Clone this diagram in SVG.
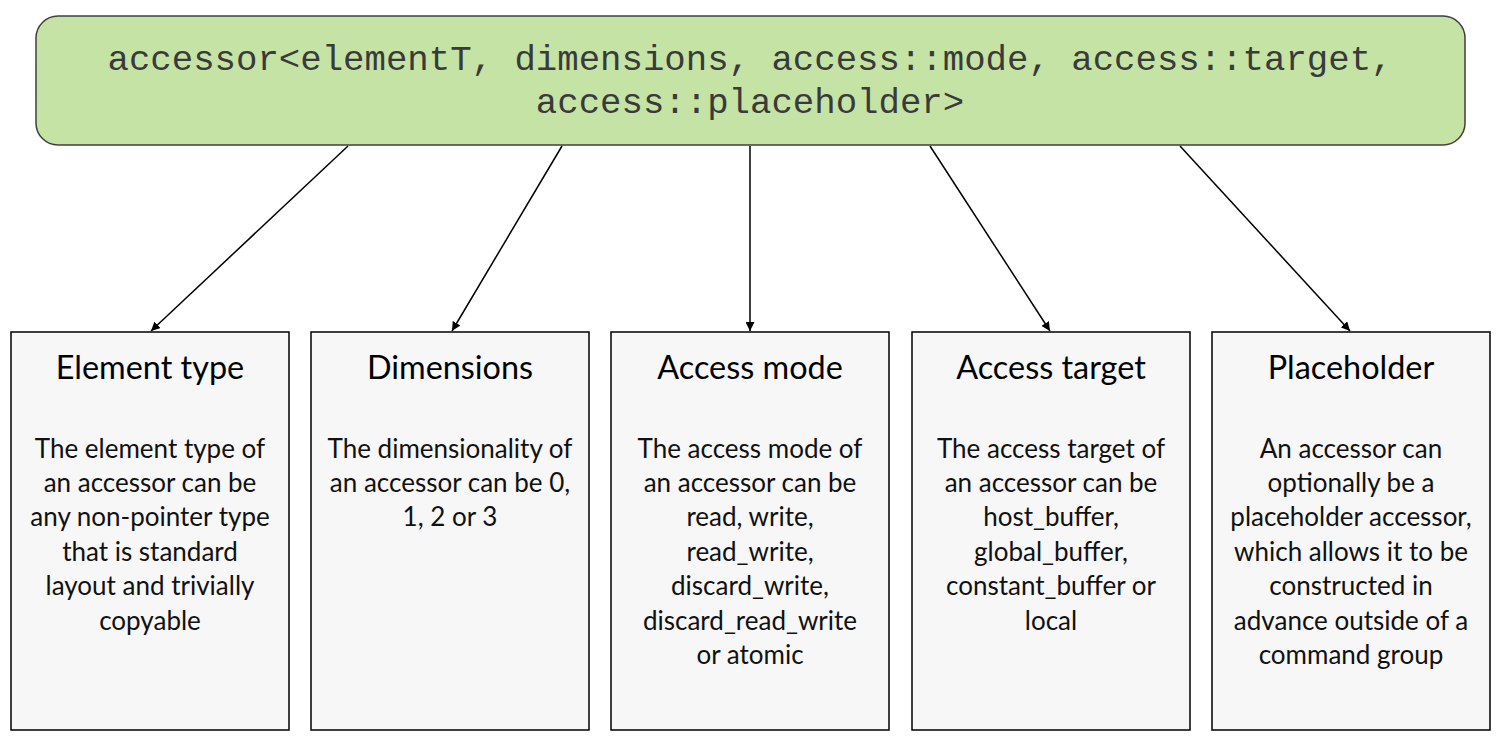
<svg xmlns="http://www.w3.org/2000/svg" width="1500" height="747" viewBox="0 0 1500 747">
<style>
.code{font-family:"Liberation Mono","Courier New",monospace;font-size:35.7px;fill:#3a3a3a;text-anchor:middle}
.box{fill:#f7f7f7;stroke:#000;stroke-width:1.5}
.title{font-family:Lato,"Noto Sans",sans-serif;font-size:32.4px;fill:#000;text-anchor:middle}
.body{font-family:Lato,"Noto Sans",sans-serif;font-size:26px;fill:#111;text-anchor:middle}
.conn{stroke:#000;stroke-width:1.5;fill:none;marker-end:url(#ah)}
</style>
<defs>
<marker id="ah" viewBox="0 0 10 10" refX="10" refY="5" markerWidth="9" markerHeight="9" markerUnits="userSpaceOnUse" orient="auto">
<path d="M0,0 L10,5 L0,10 z" fill="#000"/>
</marker>
</defs>
<rect width="1500" height="747" fill="#fff"/>
<g id="accessor">
<rect x="36" y="16" width="1429" height="129" rx="22" fill="#c5e3a5" stroke="#404040" stroke-width="1.5"/>
<text class="code" x="750" y="70">accessor&lt;elementT, dimensions, access::mode, access::target,</text>
<text class="code" x="750" y="113">access::placeholder&gt;</text>
</g>
<g id="connectors">
<line class="conn" x1="348" y1="146" x2="151" y2="331"/>
<line class="conn" x1="562" y1="146" x2="452" y2="331"/>
<line class="conn" x1="750" y1="146" x2="750" y2="331"/>
<line class="conn" x1="930" y1="146" x2="1050" y2="331"/>
<line class="conn" x1="1180" y1="146" x2="1350" y2="331"/>
</g>
<g id="element-type">
<rect class="box" x="11" y="332" width="278" height="398"/>
<text class="title" x="150" y="379">Element type</text>
<text class="body"><tspan x="150" y="458">The element type of</tspan><tspan x="150" y="492">an accessor can be</tspan><tspan x="150" y="526">any non-pointer type</tspan><tspan x="150" y="561">that is standard</tspan><tspan x="150" y="595">layout and trivially</tspan><tspan x="150" y="630">copyable</tspan></text>
</g>
<g id="dimensions">
<rect class="box" x="311" y="332" width="278" height="398"/>
<text class="title" x="450" y="379">Dimensions</text>
<text class="body"><tspan x="450" y="458">The dimensionality of</tspan><tspan x="450" y="492">an accessor can be 0,</tspan><tspan x="450" y="526">1, 2 or 3</tspan></text>
</g>
<g id="access-mode">
<rect class="box" x="611" y="332" width="278" height="398"/>
<text class="title" x="750" y="379">Access mode</text>
<text class="body"><tspan x="750" y="458">The access mode of</tspan><tspan x="750" y="492">an accessor can be</tspan><tspan x="750" y="526">read, write,</tspan><tspan x="750" y="561">read_write,</tspan><tspan x="750" y="595">discard_write,</tspan><tspan x="750" y="630">discard_read_write</tspan><tspan x="750" y="664">or atomic</tspan></text>
</g>
<g id="access-target">
<rect class="box" x="912" y="332" width="278" height="398"/>
<text class="title" x="1051" y="379">Access target</text>
<text class="body"><tspan x="1051" y="458">The access target of</tspan><tspan x="1051" y="492">an accessor can be</tspan><tspan x="1051" y="526">host_buffer,</tspan><tspan x="1051" y="561">global_buffer,</tspan><tspan x="1051" y="595">constant_buffer or</tspan><tspan x="1051" y="630">local</tspan></text>
</g>
<g id="placeholder">
<rect class="box" x="1212" y="332" width="278" height="398"/>
<text class="title" x="1351" y="379">Placeholder</text>
<text class="body"><tspan x="1351" y="458">An accessor can</tspan><tspan x="1351" y="492">optionally be a</tspan><tspan x="1351" y="526">placeholder accessor,</tspan><tspan x="1351" y="561">which allows it to be</tspan><tspan x="1351" y="595">constructed in</tspan><tspan x="1351" y="630">advance outside of a</tspan><tspan x="1351" y="664">command group</tspan></text>
</g>
</svg>
